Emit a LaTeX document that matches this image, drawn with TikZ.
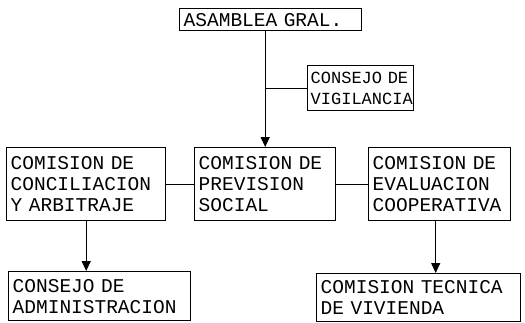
\documentclass[tikz,border=0pt]{standalone}
\usepackage{fontspec}
\setmonofont{Liberation Mono}
\usetikzlibrary{arrows.meta}
\tikzset{
  box/.style={draw, line width=1.4pt, rectangle, inner sep=0pt, anchor=north west,
    font=\ttfamily\fontsize{19.5}{21}\selectfont, align=left},
  conn/.style={line width=1.2pt},
  arr/.style={line width=1.2pt, -{Triangle[width=9pt,length=10pt]}}
}
\newcommand{\bx}[6]{% name, x1, y1, x2, y2, text
  \node[box, minimum width={#4pt-#2pt}, minimum height={#5pt-#3pt},
        text width={#4pt-#2pt-8pt}] (#1) at (#2,#3) {#6};}
\begin{document}
\begin{tikzpicture}[x=1pt,y=-1pt]
\useasboundingbox (0,0) rectangle (525,322);
\bx{asam}{179}{8}{361}{30}{ASAMBLEA GRAL.}
\node[box, font=\ttfamily\fontsize{17}{21}\selectfont, minimum width=106pt, minimum height=45pt, text width=100pt] (vig) at (307,65) {CONSEJO DE\\VIGILANCIA};
\bx{conc}{6}{147}{165}{220}{COMISION DE\\CONCILIACION\\Y ARBITRAJE}
\bx{prev}{194}{147}{335}{220}{COMISION DE\\PREVISION\\SOCIAL}
\bx{eval}{368}{147}{510}{220}{COMISION DE\\EVALUACION\\COOPERATIVA}
\bx{admin}{8}{271}{190}{320}{CONSEJO DE\\ADMINISTRACION}
\bx{tec}{316}{273}{520}{321}{COMISION TECNICA\\DE VIVIENDA}
\draw[arr] (asam.south -| prev.north) -- (prev.north);
\draw[conn] (vig.west -| prev.north) -- (vig.west);
\draw[conn] (conc.east) -- (prev.west);
\draw[conn] (prev.east) -- (eval.west);
\draw[arr] (conc.south) -- (conc.south |- admin.north);
\draw[arr] ([xshift=-4pt]eval.south) -- ([xshift=-4pt]eval.south |- tec.north);
\end{tikzpicture}
\end{document}
